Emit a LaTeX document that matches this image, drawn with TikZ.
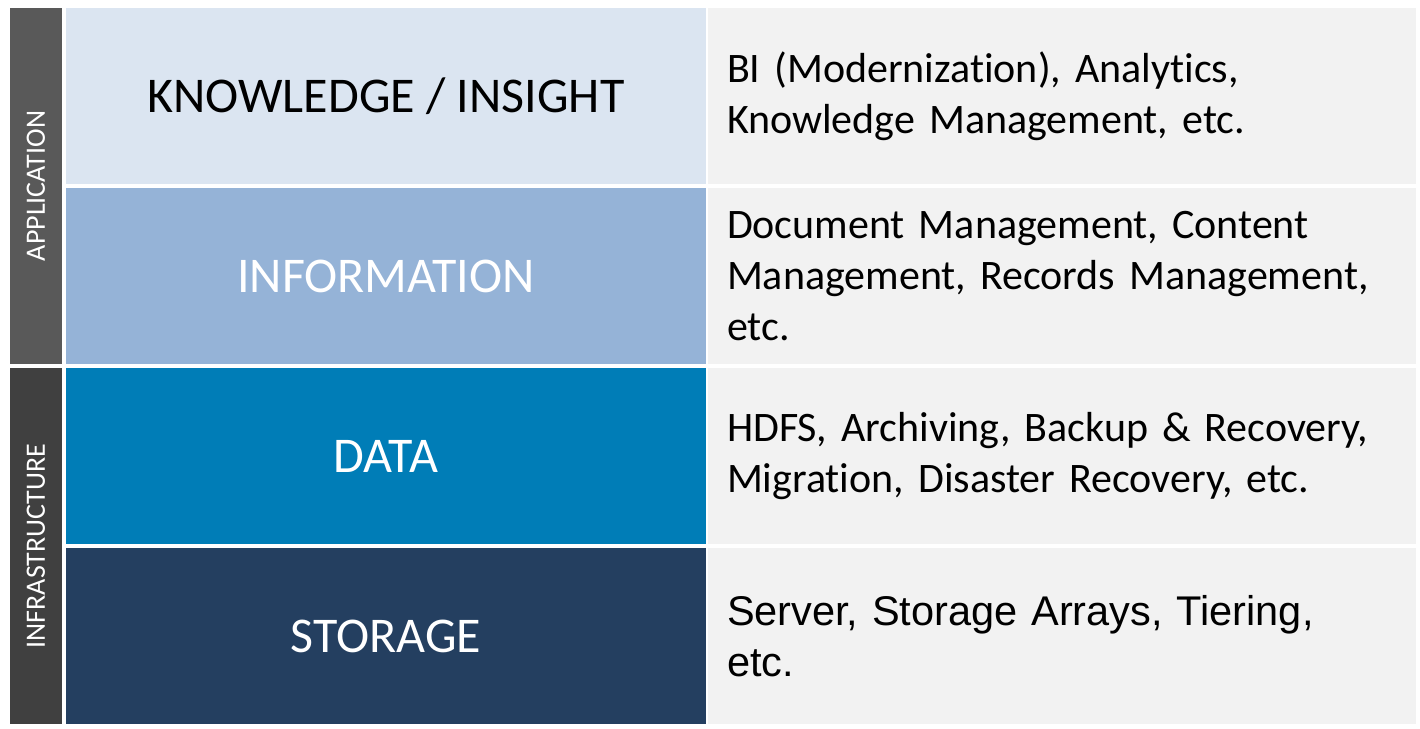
\documentclass[tikz,border=0pt]{standalone}
\usepackage{fontspec}
\setmainfont[Ligatures={NoCommon}]{Carlito}
\newfontfamily\descfont[Ligatures={NoCommon}, WordSpace=0.7]{Carlito}
\newfontfamily\arialfont[WordSpace=0.8]{Liberation Sans}

\definecolor{knowcol}{RGB}{219,229,241}
\definecolor{infocol}{RGB}{149,179,215}
\definecolor{datacol}{RGB}{0,125,183}
\definecolor{storcol}{RGB}{36,63,96}
\definecolor{desccol}{RGB}{242,242,242}
\definecolor{appcol}{RGB}{89,89,89}
\definecolor{infracol}{RGB}{64,64,64}

\tikzset{
  layer/.style={minimum width=640pt, minimum height=176pt, inner sep=0pt,
    font=\fontsize{50}{60}\selectfont},
  desc/.style={fill=desccol, text width=670pt, inner xsep=19pt, inner ysep=0pt,
    minimum height=176pt, align=left, font=\descfont\fontsize{42}{51}\selectfont},
  side/.style={rotate=90, minimum width=356pt, minimum height=52pt, inner sep=0pt,
    text=white, font=\fontsize{28}{32}\selectfont}
}

\begin{document}
\begin{tikzpicture}[x=1pt,y=-1pt]
      \fill[white] (0,0) rectangle (1420,728);
      \useasboundingbox (0,0) rectangle (1420,728);
      % side bars
      \node[side, fill=appcol] (app) at (36,186) {APPLICATION};
      \node[side, fill=infracol] (infra) at (36,546) {INFRASTRUCTURE};
      % layers
      \node[layer, fill=knowcol] (know) at (386,96) {KNOWLEDGE / INSIGHT};
      \node[layer, fill=infocol, text=white] (info) at (386,276) {INFORMATION};
      \node[layer, fill=datacol, text=white] (data) at (386,456) {DATA};
      \node[layer, fill=storcol, text=white] (stor) at (386,636) {STORAGE};
      % descriptions
      \node[desc] (knowdesc) at (1062,96) {BI (Modernization), Analytics,\\Knowledge Management, etc.};
      \node[desc] (infodesc) at (1062,276) {Document Management, Content\\Management, Records Management,\\etc.};
      \node[desc] (datadesc) at (1062,456) {HDFS, Archiving, Backup \& Recovery,\\Migration, Disaster Recovery, etc.};
      \node[desc, font=\arialfont\fontsize{41.5}{51}\selectfont] (stordesc) at (1062,636) {Server, Storage Arrays, Tiering,\\etc.};
\end{tikzpicture}
\end{document}
